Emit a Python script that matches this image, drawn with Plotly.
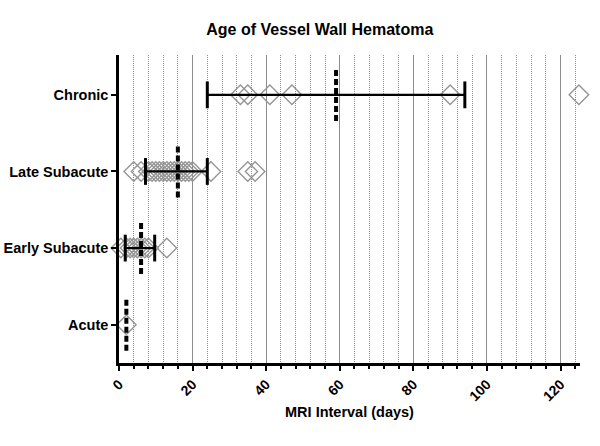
import plotly.graph_objects as go

categories = ["Acute", "Early Subacute", "Late Subacute", "Chronic"]
acute = [2]
early_subacute = [0.5, 2, 3, 4, 5, 6, 7, 8, 13]
late_subacute = [4, 6, 8, 9, 10, 11, 12, 13, 14, 15, 16, 17, 18, 19, 20, 25, 35, 37]
chronic = [33, 35, 41, 47, 90, 125]
values = [acute, early_subacute, late_subacute, chronic]
medians = [2, 6, 16, 59]
err_lo = [None, 1.7, 7.2, 24]
err_hi = [None, 9.7, 24, 94]

MED_HALF = 0.34
CAP_HALF = 0.175

fig = go.Figure()

# diamonds
for i, vals in enumerate(values):
    fig.add_trace(go.Scatter(
        x=vals, y=[i] * len(vals), mode="markers",
        marker=dict(symbol="diamond-open", size=15, color="#969696",
                    line=dict(width=1.4, color="#969696")),
        cliponaxis=False, showlegend=False, hoverinfo="x"))

# error bars
for i in range(len(categories)):
    lo, hi = err_lo[i], err_hi[i]
    if lo is None:
        continue
    fig.add_trace(go.Scatter(x=[lo, hi], y=[i, i], mode="lines",
                             line=dict(color="black", width=2.2),
                             showlegend=False, hoverinfo="skip"))
    for v in (lo, hi):
        fig.add_trace(go.Scatter(x=[v, v], y=[i - CAP_HALF, i + CAP_HALF], mode="lines",
                                 line=dict(color="black", width=3),
                                 showlegend=False, hoverinfo="skip"))

# median dashed lines
for i, m in enumerate(medians):
    fig.add_trace(go.Scatter(x=[m, m], y=[i - MED_HALF, i + MED_HALF], mode="lines",
                             line=dict(color="black", width=4, dash="6px,3px"),
                             showlegend=False, hoverinfo="skip", cliponaxis=False))

fig.update_layout(
    width=600, height=446,
    margin=dict(l=119, r=20, t=55, b=83),
    plot_bgcolor="white", paper_bgcolor="white",
    font=dict(family="Arial, Liberation Sans, sans-serif", color="black"),
    title=dict(text="<b>Age of Vessel Wall Hematoma</b>", x=0.533, xref="container",
               xanchor="center", y=0.933, yanchor="middle",
               font=dict(size=16, color="black")),
    xaxis=dict(
        range=[0, 125.3], tickmode="linear", tick0=0, dtick=20, automargin=False,
        showgrid=True, gridcolor="#8c8c8c", gridwidth=1,
        showline=True, linecolor="black", linewidth=2.5,
        ticks="outside", ticklen=5, tickwidth=2, tickcolor="black",
        tickangle=-45, tickfont=dict(size=14, color="black", weight="bold"),
        zeroline=False,
        minor=dict(dtick=4, tick0=0, showgrid=True, gridcolor="#8f8f8f", griddash="1px,1px",
                   gridwidth=1, ticks="outside", ticklen=3, tickwidth=2, tickcolor="black"),
        title=dict(text="<b>MRI Interval (days)</b>", font=dict(size=14.5, color="black"), standoff=4),
    ),
    yaxis=dict(
        range=[-0.5, 3.52], tickmode="array", tickvals=[0, 1, 2, 3], automargin=False,
        ticktext=["<b>%s</b>" % c for c in categories],
        showgrid=False, zeroline=False,
        showline=True, linecolor="black", linewidth=2.5,
        ticks="outside", ticklen=5, tickwidth=2, tickcolor="black",
        tickfont=dict(size=14.5, color="black"),
    ),
)

# remove the browser's default 8px body margin so the figure fills the window exactly
fig.write_html("out.html", config={"displayModeBar": False},
               post_script="document.body.style.margin='0';")
